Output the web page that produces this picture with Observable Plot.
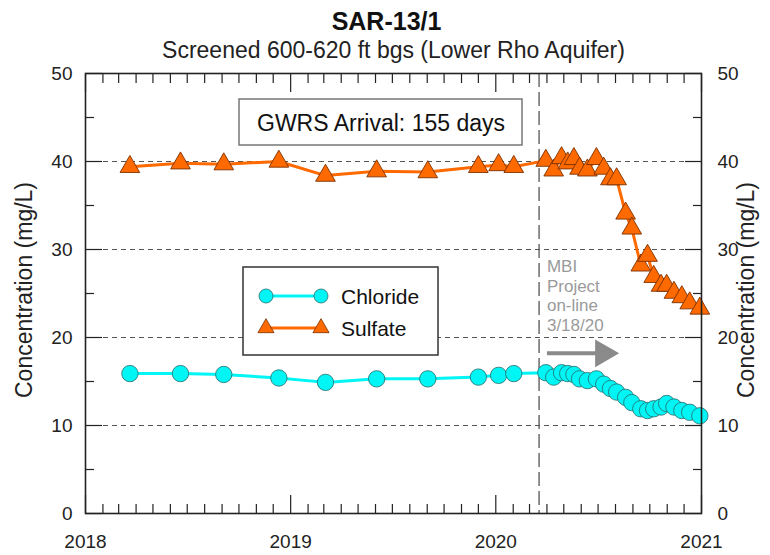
<!DOCTYPE html>
<html><head><meta charset="utf-8">
<script src="https://cdn.jsdelivr.net/npm/d3@7"></script>
<script src="https://cdn.jsdelivr.net/npm/@observablehq/plot@0.6"></script>
<style>
body{margin:0;background:#fff;}
#chart{position:relative;width:770px;height:555px;font-family:"Liberation Sans",Arial,sans-serif;}
#chart svg{position:absolute;left:0;top:0;}
</style></head><body><div id="chart"></div>
<script>
const sampleDates = ["2018-03-21","2018-06-19","2018-09-04","2018-12-11","2019-03-04","2019-06-03","2019-09-02","2019-12-01","2020-01-06","2020-02-02",
  "2020-03-30","2020-04-13","2020-04-27","2020-05-08","2020-05-19","2020-05-29","2020-06-12","2020-06-28","2020-07-11","2020-07-23","2020-08-03",
  "2020-08-19","2020-08-30","2020-09-15","2020-09-27","2020-10-08","2020-10-21","2020-10-31","2020-11-13","2020-11-27","2020-12-11","2020-12-29"];
const chloride = [15.9,15.9,15.8,15.4,14.9,15.3,15.3,15.5,15.7,15.9,
  16.0,15.5,16.0,15.9,15.8,15.3,15.1,15.3,14.7,14.2,13.8,
  13.2,12.6,11.9,11.7,11.9,12.1,12.5,12.1,11.7,11.5,11.1];
const sulfate = [39.4,39.8,39.7,40.0,38.4,38.9,38.8,39.4,39.6,39.4,
  40.1,39.0,40.4,39.8,40.3,39.2,39.0,40.3,39.2,38.0,38.0,
  34.1,32.4,28.2,29.3,26.9,25.9,25.9,25.1,24.6,23.9,23.3];
const yearTicks = ["2018-01-01","2019-01-01","2020-01-01","2021-01-01"];
const yMajor = [0,10,20,30,40,50];
const yMinor = [5,15,25,35,45];
const gridValues = [10,20,30,40];
const mbiDate = "2020-03-18";
const title = "SAR-13/1";
const subtitle = "Screened 600-620 ft bgs (Lower Rho Aquifer)";
const yLabel = "Concentration (mg/L)";
const arrivalText = "GWRS Arrival: 155 days";
const annotation = "MBI\nProject\non-line\n3/18/20";
const seriesNames = ["Chloride","Sulfate"];

const parse = d3.utcParse("%Y-%m-%d");
const rows = sampleDates.map((d,i)=>({date: parse(d), chloride: chloride[i], sulfate: sulfate[i]}));
const years = yearTicks.map(parse);
const months = d3.utcMonth.range(parse("2018-01-01"), parse("2021-01-01")).filter(d=>d.getUTCMonth()!==0);

const cyan = "#00F5F5", orange = "#FF6A00";
const font = "Liberation Sans, Arial, sans-serif";

const plot = Plot.plot({
  width: 770, height: 555,
  marginLeft: 85, marginRight: 69, marginTop: 73, marginBottom: 42,
  style: {fontFamily: font, fontSize: "16px", color: "#222", background: "#fff"},
  x: {type: "utc", domain: [parse("2018-01-01"), parse("2021-01-01")]},
  y: {domain: [0, 50]},
  marks: [
    Plot.gridY(gridValues, {stroke: "#555", strokeOpacity: 1, strokeDasharray: "5,4"}),
    Plot.ruleX([parse(mbiDate)], {stroke: "#555", strokeWidth: 1.3, strokeDasharray: "14,5"}),
    Plot.axisX(years, {anchor: "bottom", tickSize: -18, tickFormat: () => "", strokeWidth: 1.2}),
    Plot.axisX(months, {anchor: "bottom", tickSize: -9, tickFormat: () => "", strokeWidth: 1.2}),
    Plot.axisX(years, {anchor: "top", tickSize: -18, tickFormat: () => "", strokeWidth: 1.2}),
    Plot.axisX(months, {anchor: "top", tickSize: -9, tickFormat: () => "", strokeWidth: 1.2}),
    Plot.axisY(yMajor, {anchor: "left", tickSize: -17, tickFormat: () => "", strokeWidth: 1.2}),
    Plot.axisY(yMinor, {anchor: "left", tickSize: -9, tickFormat: () => "", strokeWidth: 1.2}),
    Plot.axisY(yMajor, {anchor: "right", tickSize: -17, tickFormat: () => "", strokeWidth: 1.2}),
    Plot.axisY(yMinor, {anchor: "right", tickSize: -9, tickFormat: () => "", strokeWidth: 1.2}),
    Plot.axisX(years, {anchor: "bottom", tickSize: 0, tickPadding: 21, tickFormat: "%Y", fontSize: 19, label: null}),
    Plot.axisY(yMajor, {anchor: "left", tickSize: 0, tickPadding: 13, fontSize: 19, label: null}),
    Plot.axisY(yMajor, {anchor: "right", tickSize: 0, tickPadding: 16, fontSize: 19, label: null}),
    Plot.text([title], {frameAnchor: "top", dx: -7, dy: -61, fontSize: 25, fontWeight: "bold", fill: "#111"}),
    Plot.text([subtitle], {frameAnchor: "top", dy: -32, fontSize: 23, fill: "#222"}),
    Plot.text([annotation], {x: () => parse("2020-04-01"), y: () => 24.8, textAnchor: "start", lineHeight: 1.15, fontSize: 17, fill: "#9a9a9a"}),
    Plot.link([0], {x1: () => parse("2020-04-01"), x2: () => parse("2020-07-05"), y1: () => 18.2, y2: () => 18.2, stroke: "#8a8a8a", strokeWidth: 4}),
    Plot.dot([0], {x: () => parse("2020-07-10"), y: () => 18.2, symbol: "triangle", r: 10.3, rotate: 90, fill: "#8a8a8a", stroke: "none"}),
    Plot.line(rows, {x: "date", y: "sulfate", stroke: orange, strokeWidth: 3}),
    Plot.dot(rows, {x: "date", y: "sulfate", symbol: "triangle", r: 7.3, fill: orange, stroke: "#7a3000", strokeWidth: 0.9}),
    Plot.line(rows, {x: "date", y: "chloride", stroke: cyan, strokeWidth: 3}),
    Plot.dot(rows, {x: "date", y: "chloride", symbol: "circle", r: 8.2, fill: cyan, stroke: "#2a6a6a", strokeWidth: 0.8}),
    Plot.frame({stroke: "#222", strokeWidth: 1.6})
  ]
});
const chart = document.getElementById("chart");
chart.appendChild(plot);

const ov = d3.select(chart).append("svg").attr("width", 770).attr("height", 555).style("font-family", font);
for (const cx of [24, 746]) {
  ov.append("text").attr("transform", `translate(${cx},290) rotate(-90)`).attr("text-anchor", "middle")
    .attr("dominant-baseline", "central").attr("font-size", 23).attr("fill", "#222").text(yLabel);
}
ov.append("rect").attr("x", 239).attr("y", 99).attr("width", 283).attr("height", 46).attr("fill", "#fff").attr("stroke", "#777").attr("stroke-width", 1.5);
ov.append("text").attr("x", 381).attr("y", 123).attr("text-anchor", "middle").attr("dominant-baseline", "central").attr("font-size", 23).attr("fill", "#111").text(arrivalText);
ov.append("rect").attr("x", 243).attr("y", 267).attr("width", 195).attr("height", 88).attr("fill", "#fff").attr("stroke", "#333").attr("stroke-width", 1.5);
const legendItems = [
  {name: seriesNames[0], color: cyan, sym: d3.symbolCircle, size: Math.PI*7*7, stroke: "#2a6a6a", y: 296},
  {name: seriesNames[1], color: orange, sym: d3.symbolTriangle, size: Math.PI*6*6, stroke: "#7a3000", y: 328}
];
for (const it of legendItems) {
  ov.append("line").attr("x1", 266).attr("x2", 321).attr("y1", it.y).attr("y2", it.y).attr("stroke", it.color).attr("stroke-width", 3);
  for (const x of [266, 321]) {
    ov.append("path").attr("d", d3.symbol(it.sym, it.size)()).attr("transform", `translate(${x},${it.y})`).attr("fill", it.color).attr("stroke", it.stroke).attr("stroke-width", 0.8);
  }
  ov.append("text").attr("x", 341).attr("y", it.y).attr("dominant-baseline", "central").attr("font-size", 21).attr("fill", "#111").text(it.name);
}
</script></body></html>
